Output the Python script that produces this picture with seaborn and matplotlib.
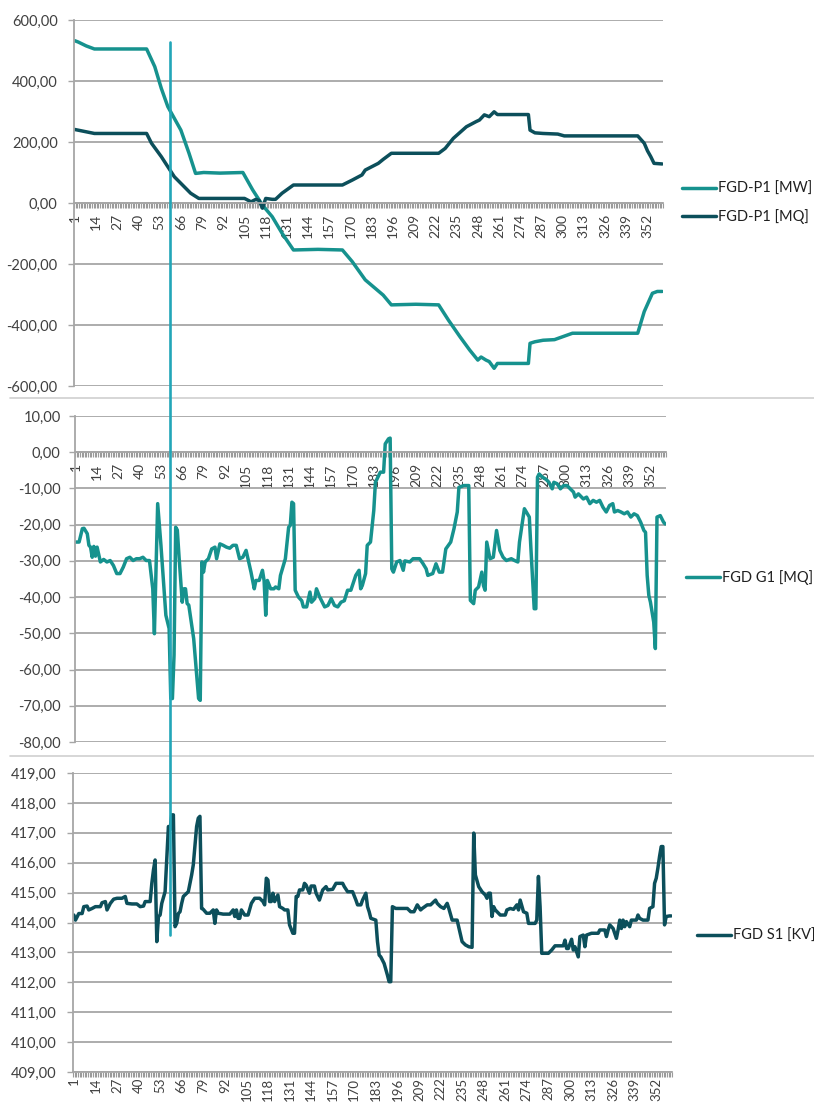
import numpy as np
import pandas as pd
import seaborn as sns
import matplotlib.pyplot as plt
from matplotlib.lines import Line2D
from matplotlib.ticker import MultipleLocator, FuncFormatter, FixedLocator

# --- data: sample index -> value ------------------------------------------
x_ticks = [1, 14, 27, 40, 53, 66, 79, 92, 105, 118, 131, 144, 157, 170,
           183, 196, 209, 222, 235, 248, 261, 274, 287, 300, 313, 326, 339, 352]

mw_x = [1, 3, 8, 13, 45, 50, 54, 58, 66, 71,
        75, 80, 90, 104, 110, 116, 122, 128, 135, 150,
        165, 171, 179, 190, 195, 210, 224, 230, 237, 243,
        248, 250, 253, 255, 258, 260, 279, 280, 283, 288,
        295, 306, 346, 350, 355, 358, 361]
mw_y = [532, 528, 515, 505, 505, 447, 376, 316, 239, 163,
        97, 100, 98, 100, 43, -7, -45, -99, -154, -152,
        -154, -192, -252, -302, -334, -332, -334, -384, -438, -482,
        -515, -505, -515, -520, -542, -526, -526, -460, -455, -450,
        -448, -427, -427, -356, -296, -290, -290]

mq_x = [1, 13, 45, 48, 54, 58, 62, 67, 72, 77,
        105, 109, 112, 114, 116, 118, 122, 124, 128, 135,
        165, 171, 177, 179, 187, 190, 195, 224, 228, 233,
        241, 247, 249, 252, 255, 258, 260, 279, 280, 283,
        288, 297, 301, 346, 350, 352, 354, 356, 361]
mq_y = [241, 228, 228, 196, 152, 119, 86, 59, 32, 15,
        15, 4, 12, 8, -17, 15, 12, 12, 32, 59,
        59, 75, 92, 108, 130, 143, 163, 163, 179, 212,
        250, 267, 272, 289, 283, 299, 290, 290, 239, 230,
        228, 226, 220, 220, 196, 171, 152, 130, 128]

g1_x = [1, 3, 5, 6, 8, 9, 10, 11, 12, 13,
        14, 16, 18, 20, 22, 24, 26, 28, 29, 30,
        32, 34, 36, 38, 40, 42, 44, 46, 48, 49,
        51, 53, 56, 58, 59, 60, 61, 62, 63, 64,
        66, 67, 68, 69, 70, 73, 76, 77, 78, 79,
        80, 82, 84, 86, 87, 89, 91, 93, 95, 97,
        99, 101, 103, 105, 108, 110, 111, 113, 115, 116,
        117, 118, 120, 122, 123, 125, 126, 129, 131, 132,
        133, 134, 135, 137, 139, 140, 142, 144, 145, 147,
        148, 150, 153, 155, 157, 159, 161, 163, 165, 167,
        169, 171, 172, 174, 175, 176, 178, 179, 181, 183,
        184, 187, 189, 190, 192, 193, 194, 195, 197, 199,
        201, 202, 205, 207, 211, 213, 215, 216, 219, 221,
        223, 225, 227, 230, 232, 234, 235, 238, 241, 242,
        244, 245, 247, 249, 250, 251, 252, 254, 256, 258,
        260, 262, 264, 267, 269, 271, 272, 275, 278, 279,
        281, 282, 283, 284, 286, 288, 290, 292, 293, 295,
        297, 299, 301, 303, 305, 306, 308, 311, 313, 315,
        317, 319, 321, 323, 325, 327, 329, 330, 332, 334,
        336, 338, 340, 342, 344, 346, 348, 349, 350, 351,
        352, 354, 355, 356, 358, 360, 361]
g1_y = [-24.8, -24.8, -21.1, -21.0, -22.5, -25.7, -26.2, -29.0, -26.0, -28.7,
        -26.2, -30.3, -29.6, -30.3, -29.9, -31.3, -33.5, -33.5, -32.6, -31.7,
        -29.4, -29.0, -29.9, -29.4, -29.4, -29.0, -29.9, -29.9, -37.7, -50.1,
        -14.2, -25.7, -45.0, -48.7, -68.0, -68.0, -56.0, -20.7, -21.5, -28.5,
        -41.4, -37.7, -37.7, -41.8, -42.2, -51.5, -68.0, -68.5, -30.3, -33.1,
        -30.3, -29.4, -26.7, -26.2, -29.4, -25.3, -25.7, -26.2, -26.5, -25.7,
        -25.7, -29.4, -29.0, -27.1, -33.1, -37.7, -35.4, -35.4, -32.6, -35.4,
        -45.0, -35.4, -37.7, -37.7, -37.2, -37.7, -34.0, -29.4, -20.7, -20.2,
        -13.8, -14.2, -38.1, -40.0, -41.0, -42.7, -42.7, -38.6, -41.4, -40.4,
        -37.7, -40.0, -42.7, -42.3, -40.4, -42.3, -42.7, -41.4, -41.0, -38.1,
        -38.1, -35.4, -34.0, -32.6, -37.7, -36.8, -33.5, -25.7, -24.8, -16.1,
        -8.3, -5.5, -5.5, 2.3, 3.7, 3.9, -32.2, -33.1, -30.3, -29.9,
        -32.6, -30.0, -30.3, -29.4, -29.4, -30.7, -32.2, -34.0, -33.5, -30.8,
        -33.1, -33.1, -26.7, -24.8, -21.1, -16.5, -9.7, -9.2, -9.2, -40.9,
        -41.8, -38.1, -37.2, -33.1, -36.8, -38.1, -24.8, -29.4, -29.0, -21.6,
        -27.1, -29.0, -29.9, -29.4, -29.9, -30.3, -24.8, -15.6, -17.9, -26.7,
        -43.2, -43.2, -6.9, -6.0, -6.9, -7.4, -8.3, -10.1, -8.3, -8.7,
        -10.1, -9.2, -9.2, -10.1, -11.0, -12.4, -11.5, -12.9, -12.4, -14.2,
        -13.3, -13.8, -13.3, -15.2, -16.5, -14.7, -14.2, -16.5, -16.1, -16.5,
        -17.0, -16.5, -17.9, -17.0, -17.5, -19.3, -21.6, -22.1, -34.0, -39.5,
        -41.4, -46.9, -54.2, -17.9, -17.5, -19.3, -19.8]

s1_x = [1, 2, 4, 6, 7, 9, 10, 12, 14, 17,
        18, 20, 21, 23, 25, 27, 30, 32, 33, 36,
        39, 41, 43, 44, 47, 48, 49, 50, 51, 52,
        53, 54, 56, 58, 59, 60, 61, 62, 63, 64,
        65, 66, 67, 69, 70, 72, 73, 75, 76, 77,
        78, 79, 81, 83, 85, 86, 87, 88, 91, 95,
        97, 98, 99, 100, 101, 102, 104, 106, 108, 110,
        113, 115, 116, 117, 118, 119, 120, 121, 122, 124,
        125, 127, 128, 130, 131, 133, 134, 135, 136, 137,
        139, 140, 141, 143, 144, 146, 147, 149, 151, 153,
        154, 157, 159, 163, 164, 166, 169, 171, 172, 174,
        175, 177, 178, 179, 180, 183, 184, 185, 186, 188,
        190, 191, 192, 193, 195, 199, 202, 204, 206, 208,
        210, 211, 214, 216, 219, 220, 222, 224, 226, 227,
        229, 232, 235, 237, 239, 241, 242, 243, 245, 247,
        249, 250, 251, 252, 253, 254, 255, 258, 261, 262,
        264, 266, 268, 269, 270, 272, 274, 275, 279, 280,
        281, 282, 283, 287, 289, 291, 296, 297, 298, 299,
        301, 302, 303, 305, 306, 308, 309, 310, 313, 317,
        318, 321, 322, 323, 324, 326, 328, 329, 330, 331,
        332, 333, 334, 336, 337, 340, 341, 342, 344, 347,
        348, 350, 351, 352, 353, 354, 355, 356, 357, 358,
        360, 361]
s1_y = [414.25, 414.08, 414.30, 414.30, 414.53, 414.55, 414.42, 414.47, 414.53, 414.53,
        414.66, 414.70, 414.42, 414.64, 414.78, 414.81, 414.81, 414.87, 414.64, 414.62,
        414.62, 414.53, 414.55, 414.70, 414.70, 415.31, 415.76, 416.09, 413.36, 414.20,
        414.25, 414.64, 415.03, 417.21, 417.10, 417.60, 417.60, 413.86, 413.97, 414.30,
        414.36, 414.64, 414.87, 414.98, 415.03, 415.59, 415.93, 417.21, 417.49, 417.55,
        414.47, 414.44, 414.31, 414.31, 414.42, 413.97, 414.42, 414.31, 414.28, 414.28,
        414.42, 414.20, 414.42, 414.14, 414.14, 414.42, 414.25, 414.25, 414.64, 414.81,
        414.81, 414.70, 414.59, 415.48, 415.42, 414.70, 414.70, 414.98, 414.70, 414.92,
        414.53, 414.47, 414.42, 414.42, 413.92, 413.64, 413.64, 414.87, 414.87, 415.09,
        415.09, 415.31, 415.25, 414.98, 415.22, 415.22, 414.98, 414.75, 415.09, 415.20,
        415.09, 415.11, 415.31, 415.31, 415.20, 415.03, 415.03, 414.75, 414.59, 414.59,
        414.75, 414.98, 414.53, 414.36, 414.14, 414.08, 413.36, 412.91, 412.85, 412.63,
        412.24, 412.02, 412.02, 414.53, 414.47, 414.47, 414.47, 414.36, 414.36, 414.59,
        414.42, 414.47, 414.59, 414.59, 414.75, 414.64, 414.53, 414.47, 414.64, 414.47,
        414.08, 414.08, 413.36, 413.25, 413.19, 413.17, 416.99, 415.59, 415.20, 415.03,
        414.92, 414.81, 414.98, 414.98, 414.20, 414.53, 414.42, 414.25, 414.25, 414.42,
        414.47, 414.44, 414.59, 414.42, 414.75, 414.36, 414.31, 413.97, 413.97, 414.08,
        415.54, 414.53, 412.97, 412.97, 413.08, 413.22, 413.22, 413.41, 413.13, 413.13,
        413.44, 413.08, 413.19, 412.85, 413.53, 413.58, 413.19, 413.58, 413.64, 413.64,
        413.75, 413.75, 413.53, 413.75, 413.92, 413.80, 413.47, 413.75, 414.08, 413.80,
        414.08, 413.86, 414.03, 413.86, 414.08, 414.08, 414.25, 414.14, 414.08, 414.08,
        414.47, 414.53, 415.31, 415.48, 415.82, 416.21, 416.54, 416.54, 413.92, 414.20,
        414.22, 414.22]

TEAL = '#16928e'
DARK = '#0c4f5b'
CURSOR = '#22a6b8'
GRID = '#a6a6a6'
TXT = '#404040'

sns.set_style('white')
plt.rcParams['font.family'] = ['Lato', 'DejaVu Sans']

W, H = 814, 1104
fig = plt.figure(figsize=(W / 100, H / 100), dpi=100)


def px_axes(left, right, top, bottom):
    return fig.add_axes([left / W, 1 - bottom / H, (right - left) / W, (bottom - top) / H])


def comma_fmt(v, pos):
    return f"{v + 0.0:.2f}".replace('.', ',')


def style(ax, ylim, step, ypad, xpad, axis_at_zero):
    ax.set_xlim(0.5, 361.5)
    ax.set_ylim(*ylim)
    ax.set_xlabel('')
    ax.set_ylabel('')
    ax.set_axisbelow(True)
    ax.yaxis.set_major_locator(MultipleLocator(step))
    ax.yaxis.set_major_formatter(FuncFormatter(comma_fmt))
    ax.set_xticks(x_ticks, labels=[str(t) for t in x_ticks])
    ax.xaxis.set_minor_locator(FixedLocator(np.arange(0.5, 362, 1)))
    ax.tick_params(axis='x', which='major', length=0, pad=xpad, labelrotation=90,
                   labelsize=10, labelcolor=TXT)
    ax.tick_params(axis='x', which='minor', bottom=True, length=3.5, width=0.8, color='#9a9a9a')
    ax.tick_params(axis='y', which='major', left=True, length=4.3, width=1.0, color=GRID,
                   pad=ypad, labelsize=10.5, labelcolor=TXT)
    ax.grid(axis='y', color=GRID, lw=1.3)
    ax.grid(axis='x', visible=False)
    for s in ['top', 'right']:
        ax.spines[s].set_visible(False)
    for s in ['left', 'bottom']:
        ax.spines[s].set_color(GRID)
        ax.spines[s].set_linewidth(1.3)
    if axis_at_zero:
        ax.spines['bottom'].set_position(('data', 0))


def legend(ax, x_px, y_px):
    ax.legend(loc='center left', bbox_to_anchor=(x_px / W, 1 - y_px / H),
              bbox_transform=fig.transFigure, frameon=False, fontsize=10.5,
              handlelength=2.3, handletextpad=0.2, borderpad=0, borderaxespad=0,
              labelspacing=0.9, labelcolor='#202020')


# panel 1
ax1 = px_axes(74, 663, 20, 386)
sns.lineplot(x=mw_x, y=mw_y, ax=ax1, color=TEAL, lw=2.5, label='FGD-P1 [MW]', sort=False)
sns.lineplot(x=mq_x, y=mq_y, ax=ax1, color=DARK, lw=2.5, label='FGD-P1 [MQ]', sort=False)
style(ax1, (-600, 600), 200, 7.5, 8, True)
legend(ax1, 682, 203)

# panel 2
ax2 = px_axes(75, 666, 416, 742)
sns.lineplot(x=g1_x, y=g1_y, ax=ax2, color=TEAL, lw=2.5, label='FGD G1 [MQ]', sort=False)
style(ax2, (-80, 10), 10, 6, 8, True)
legend(ax2, 686, 578)

# panel 3
ax3 = px_axes(73, 672, 773, 1072)
sns.lineplot(x=s1_x, y=s1_y, ax=ax3, color=DARK, lw=2.5, label='FGD S1 [KV]', sort=False)
style(ax3, (409, 419), 1, 7.5, 4, False)
ax3.tick_params(axis='x', which='major', labelsize=9.5)
legend(ax3, 697, 936)

# chart borders between the stacked panels and the cursor line
for yp in (398, 756):
    fig.add_artist(Line2D([10 / W, 1], [1 - yp / H, 1 - yp / H], color='#cfcfcf', lw=1.2))
fig.add_artist(Line2D([170 / W, 170 / W], [1 - 42 / H, 1 - 935 / H], color=CURSOR, lw=1.9, zorder=10))

fig.savefig('out.png', dpi=100)
